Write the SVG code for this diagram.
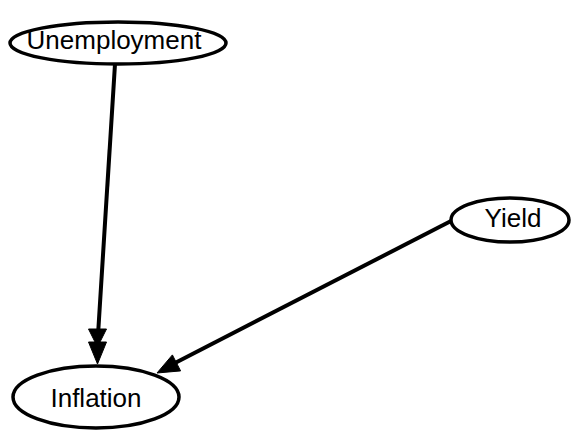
<svg xmlns="http://www.w3.org/2000/svg" width="572" height="432" viewBox="0 0 572 432">
<style>
.node ellipse{fill:#fff;stroke:#000;stroke-width:3.5}
.node text{font-family:"Liberation Sans",Arial,sans-serif;font-size:26px;fill:#000;text-anchor:middle}
.edge line{stroke:#000;stroke-width:4}
.edge polygon{fill:#000;stroke:#000;stroke-width:1}
</style>
<rect width="572" height="432" fill="#fff"/>
<g id="edges" class="edge">
<line x1="115" y1="64" x2="98" y2="335"/>
<polygon points="88.5,329 106.5,329 97.5,347"/>
<polygon points="88.5,342 106.5,342 97.5,364"/>
<line x1="451" y1="221" x2="175" y2="363"/>
<polygon points="172.4,354.9 180.6,370.9 157,373"/>
</g>
<g id="unemployment" class="node">
<ellipse cx="118" cy="43" rx="108" ry="21"/>
<text x="114" y="49">Unemployment</text>
</g>
<g id="yield" class="node">
<ellipse cx="510" cy="220" rx="59" ry="22"/>
<text x="513" y="227">Yield</text>
</g>
<g id="inflation" class="node">
<ellipse cx="96" cy="397" rx="83" ry="31"/>
<text x="96" y="407">Inflation</text>
</g>
</svg>
